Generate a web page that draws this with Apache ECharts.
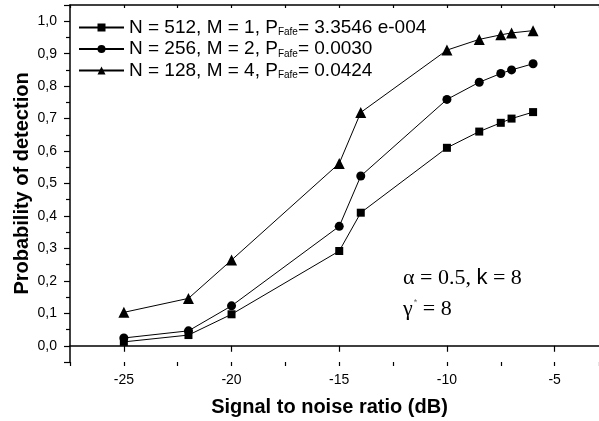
<!DOCTYPE html>
<html>
<head>
	<title>Probability of detection</title>
	<meta charset="utf-8">
	<script src="https://cdn.jsdelivr.net/npm/echarts@6/dist/echarts.min.js"></script>
	<style>
		html, body { margin: 0; padding: 0; background: #fff; }
		#main { width: 599px; height: 421px; }
	</style>
</head>
<body>
<div id="main"></div>
<script>
	// SNR values (dB) on the x axis
	var snr = [-25, -22, -20, -15, -14, -10, -8.5, -7.5, -7, -6];
	// Probability of detection for each configuration
	var pdM1 = [0.012, 0.033, 0.097, 0.292, 0.41, 0.61, 0.66, 0.687, 0.70, 0.72];
	var pdM2 = [0.024, 0.046, 0.123, 0.368, 0.523, 0.759, 0.812, 0.839, 0.85, 0.869];
	var pdM4 = [0.103, 0.146, 0.264, 0.562, 0.719, 0.911, 0.944, 0.958, 0.964, 0.971];
	var names = ['M1', 'M2', 'M4'];
	var legendText = {
		M1: 'N = 512, M = 1, P{sub|Fafe}= 3.3546 e-004',
		M2: 'N = 256, M = 2, P{sub|Fafe}= 0.0030',
		M4: 'N = 128, M = 4, P{sub|Fafe}= 0.0424'
	};

	function pairs(xs, ys) {
		return xs.map(function(x, i) { return [x, ys[i]]; });
	}

	var font = 'Liberation Sans, Arial, sans-serif';
	var serif = 'Liberation Serif, Times New Roman, serif';
	var myChart = echarts.init(document.getElementById('main'));

	function makeSeries(name, data, symbol, size) {
		return {
			name: name,
			type: 'line',
			data: pairs(snr, data),
			symbol: symbol,
			symbolSize: size,
			lineStyle: { color: '#000', width: 1 },
			itemStyle: { color: '#000' },
			animation: false
		};
	}

	var xMin = -27.5, xMax = -2.94;
	var axisLine = { show: true, lineStyle: { color: '#000', width: 1.5 } };
	var tick = { show: true, inside: false, length: 6, lineStyle: { color: '#000', width: 1.2 } };
	var minor = { show: true, splitNumber: 2, length: 4, lineStyle: { color: '#000', width: 1.2 } };

	var option = {
		backgroundColor: '#fff',
		animation: false,
		grid: { left: 70, top: 5, right: 0, bottom: 59, outerBoundsMode: 'none' },
		legend: {
			orient: 'vertical',
			left: 78,
			top: 18,
			padding: 0,
			itemGap: 2,
			itemWidth: 45,
			itemHeight: 10,
			data: names,
			formatter: function(n) { return legendText[n]; },
			textStyle: {
				fontFamily: font,
				fontSize: 19,
				color: '#000',
				rich: {
					sub: { fontFamily: font, fontSize: 10, color: '#000', verticalAlign: 'bottom', padding: [10, 0, 0, 0] }
				}
			}
		},
		xAxis: [{
			type: 'value',
			min: xMin,
			max: xMax,
			splitNumber: 5,
			name: 'Signal to noise ratio (dB)',
			nameLocation: 'middle',
			nameGap: 35,
			nameMoveOverlap: false,
			nameTextStyle: { fontFamily: font, fontSize: 20, fontWeight: 'bold', color: '#000', padding: [0, 10, 0, 0] },
			axisLine: axisLine,
			axisTick: tick,
			axisLabel: { fontFamily: font, fontSize: 14, color: '#000', margin: 11, showMinLabel: false, showMaxLabel: false },
			splitLine: { show: false }
		}, {
			// top frame line
			type: 'value',
			position: 'top',
			min: xMin,
			max: xMax,
			interval: 2.5,
			axisLine: axisLine,
			axisTick: { show: true, inside: true, length: 3, lineStyle: { color: '#000', width: 1.2 } },
			axisLabel: { show: false },
			splitLine: { show: false }
		}, {
			// minor ticks of the bottom axis
			type: 'value',
			position: 'bottom',
			offset: 0,
			min: xMin,
			max: xMax,
			interval: 2.5,
			axisLine: { show: false },
			axisTick: { show: true, inside: false, length: 4, lineStyle: { color: '#000', width: 1.2 } },
			axisLabel: { show: false },
			splitLine: { show: false }
		}],
		yAxis: {
			type: 'value',
			min: -0.05,
			max: 1.05,
			splitNumber: 11,
			name: 'Probability of detection',
			nameLocation: 'middle',
			nameGap: 38,
			nameMoveOverlap: false,
			nameTextStyle: { fontFamily: font, fontSize: 20, fontWeight: 'bold', color: '#000' },
			axisLine: axisLine,
			axisTick: tick,
			minorTick: minor,
			axisLabel: {
				fontFamily: font, fontSize: 14, color: '#000', margin: 13,
				showMinLabel: false, showMaxLabel: false,
				formatter: function(v) { return v.toFixed(1).replace('.', ','); }
			},
			splitLine: { show: false }
		},
		graphic: [{
			type: 'text',
			left: 403,
			top: 267,
			style: {
				text: '{s|α = 0.5, }{k|k}{s| = 8}',
				rich: {
					s: { fontFamily: serif, fontSize: 22, fill: '#000' },
					k: { fontFamily: font, fontSize: 22, fill: '#000' }
				}
			}
		}, {
			type: 'text',
			left: 403,
			top: 298,
			style: {
				text: '{s|γ}{sup|*}{s| = 8}',
				rich: {
					s: { fontFamily: serif, fontSize: 22, fill: '#000' },
					sup: { fontFamily: font, fontSize: 9, fill: '#666', verticalAlign: 'top', padding: [0, 0, 12, 1] }
				}
			}
		}],
		series: [
			makeSeries('M1', pdM1, 'rect', 8),
			makeSeries('M2', pdM2, 'circle', 9),
			makeSeries('M4', pdM4, 'triangle', 11)
		]
	};
	myChart.setOption(option);
</script>
</body>
</html>
